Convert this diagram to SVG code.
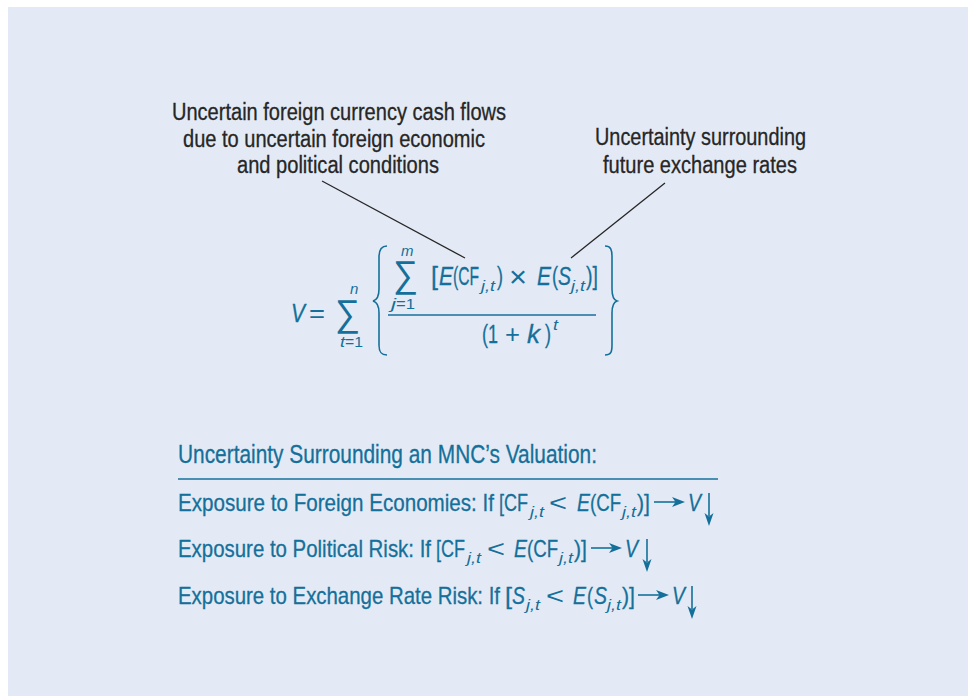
<svg xmlns="http://www.w3.org/2000/svg" width="972" height="696" viewBox="0 0 972 696">
  <style>
    .bg { fill: #e4eaf5; }
    .note { font-family: 'Liberation Sans', Arial, sans-serif; font-size: 23px; fill: #262626; stroke: #262626; stroke-width: 0.3; }
    .m { font-family: 'Liberation Sans', Arial, sans-serif; fill: #14709a; stroke: #14709a; stroke-width: 0.3; }
    .big { font-size: 25px; }
    .row { font-size: 24px; }
    .sm { font-size: 15px; stroke: none; }
    .op { stroke: none; }
    .it { font-style: italic; }
    .sig { font-family: 'Liberation Sans', Arial, sans-serif; font-size: 37px; fill: #14709a; }
    .leader { stroke: #262626; stroke-width: 1.3; fill: none; }
    .rule { stroke: #14709a; stroke-width: 1.6; fill: none; }
    .brace { stroke: #14709a; stroke-width: 1.6; fill: none; }
    .ah { fill: #14709a; }
  </style>

  <rect class="bg" x="8" y="7" width="960" height="689"/>

  <!-- callout: cash flow uncertainty -->
  <g id="note-cashflows">
    <text class="note" x="172" y="120" textLength="334" lengthAdjust="spacingAndGlyphs">Uncertain foreign currency cash flows</text>
    <text class="note" x="183" y="147" textLength="302" lengthAdjust="spacingAndGlyphs">due to uncertain foreign economic</text>
    <text class="note" x="237" y="173" textLength="202" lengthAdjust="spacingAndGlyphs">and political conditions</text>
  </g>

  <!-- callout: exchange rate uncertainty -->
  <g id="note-rates">
    <text class="note" x="595" y="145" textLength="211" lengthAdjust="spacingAndGlyphs">Uncertainty surrounding</text>
    <text class="note" x="603" y="173" textLength="194" lengthAdjust="spacingAndGlyphs">future exchange rates</text>
  </g>

  <!-- valuation equation -->
  <g id="equation">
    <text class="m big it" x="291" y="322" textLength="14" lengthAdjust="spacingAndGlyphs">V</text>
    <text class="m big op" x="309" y="322" textLength="16" lengthAdjust="spacingAndGlyphs">=</text>
    <text class="sig" x="347.5" y="326" text-anchor="middle" textLength="25" lengthAdjust="spacingAndGlyphs">∑</text>
    <text class="m sm it" x="350" y="294">n</text>
    <text class="m sm it" x="340" y="347" textLength="5" lengthAdjust="spacingAndGlyphs">t</text>
    <text class="m sm" x="345" y="347" textLength="18" lengthAdjust="spacingAndGlyphs">=1</text>

    <path class="brace" d="M387,246 C381,246 379,250 379,257 L379,289 C379,296 377,300 373,301 C377,302 379,306 379,313 L379,345 C379,352 381,355 387,355"/>
    <path class="brace" d="M605,246 C611,246 612,250 612,257 L612,289 C612,296 614,300 617,301 C614,302 612,306 612,313 L612,345 C612,352 611,355 605,355"/>

    <!-- numerator -->
    <text class="sig" x="405.5" y="287" text-anchor="middle" textLength="25" lengthAdjust="spacingAndGlyphs">∑</text>
    <text class="m sm it" x="401" y="256">m</text>
    <text class="m sm it" x="391" y="309" textLength="5" lengthAdjust="spacingAndGlyphs">j</text>
    <text class="m sm" x="396" y="309" textLength="19" lengthAdjust="spacingAndGlyphs">=1</text>

    <text class="m big" x="431" y="285" textLength="7" lengthAdjust="spacingAndGlyphs">[</text>
    <text class="m big it" x="439" y="285" textLength="14" lengthAdjust="spacingAndGlyphs">E</text>
    <text class="m big" x="453" y="285" textLength="26" lengthAdjust="spacingAndGlyphs">(CF</text>
    <text class="m sm it" x="481" y="291" textLength="14" lengthAdjust="spacingAndGlyphs">j,t</text>
    <text class="m big" x="497" y="285" textLength="6" lengthAdjust="spacingAndGlyphs">)</text>
    <text class="m op" x="509" y="287" font-size="29" textLength="18" lengthAdjust="spacingAndGlyphs">×</text>
    <text class="m big it" x="537" y="285" textLength="14" lengthAdjust="spacingAndGlyphs">E</text>
    <text class="m big" x="552" y="285" textLength="6" lengthAdjust="spacingAndGlyphs">(</text>
    <text class="m big it" x="558" y="285" textLength="13" lengthAdjust="spacingAndGlyphs">S</text>
    <text class="m sm it" x="571" y="291" textLength="14" lengthAdjust="spacingAndGlyphs">j,t</text>
    <text class="m big" x="586" y="285" textLength="12" lengthAdjust="spacingAndGlyphs">)]</text>

    <line class="rule" x1="388" y1="315" x2="596" y2="315"/>

    <!-- denominator -->
    <text class="m big" x="482" y="343" textLength="16" lengthAdjust="spacingAndGlyphs">(1</text>
    <text class="m big op" x="505" y="343" textLength="15" lengthAdjust="spacingAndGlyphs">+</text>
    <text class="m big it" x="527" y="343" textLength="13" lengthAdjust="spacingAndGlyphs">k</text>
    <text class="m big" x="545" y="343" textLength="6" lengthAdjust="spacingAndGlyphs">)</text>
    <text class="m sm it" x="553" y="330" textLength="5" lengthAdjust="spacingAndGlyphs">t</text>
  </g>

  <!-- leader lines from callouts to the equation -->
  <g id="connectors">
    <line class="leader" x1="322" y1="181" x2="465" y2="258"/>
    <line class="leader" x1="665" y1="183" x2="571" y2="258"/>
  </g>

  <!-- summary of exposures -->
  <g id="summary">
    <text class="m" x="178" y="463" font-size="25" textLength="419" lengthAdjust="spacingAndGlyphs">Uncertainty Surrounding an MNC’s Valuation:</text>
    <line class="rule" x1="178" y1="479" x2="718" y2="479"/>

    <g id="row-economies">
      <text class="m row" x="178" y="511" textLength="316" lengthAdjust="spacingAndGlyphs">Exposure to Foreign Economies: If</text>
      <text class="m row" x="499" y="511" textLength="29" lengthAdjust="spacingAndGlyphs">[CF</text>
      <text class="m sm it" x="530" y="517" textLength="14" lengthAdjust="spacingAndGlyphs">j,t</text>
      <text class="m row op" x="549" y="511" textLength="18" lengthAdjust="spacingAndGlyphs">&lt;</text>
      <text class="m row it" x="577" y="511" textLength="13" lengthAdjust="spacingAndGlyphs">E</text>
      <text class="m row" x="590" y="511" textLength="31" lengthAdjust="spacingAndGlyphs">(CF</text>
      <text class="m sm it" x="622" y="517" textLength="14" lengthAdjust="spacingAndGlyphs">j,t</text>
      <text class="m row" x="637" y="511" textLength="13" lengthAdjust="spacingAndGlyphs">)]</text>
      <text class="m row it" x="688" y="511" textLength="13" lengthAdjust="spacingAndGlyphs">V</text>
      <line class="rule" x1="654" y1="502" x2="676" y2="502"/>
      <path class="ah" d="M685,502 L672,497 L675.5,502 L672,507 Z"/>
      <line class="rule" x1="709" y1="493" x2="709" y2="516"/>
      <path class="ah" d="M709,526 L704.5,513 L709,516.5 L713.5,513 Z"/>
    </g>

    <g id="row-political">
      <text class="m row" x="178" y="557" textLength="253" lengthAdjust="spacingAndGlyphs">Exposure to Political Risk: If</text>
      <text class="m row" x="436" y="557" textLength="29" lengthAdjust="spacingAndGlyphs">[CF</text>
      <text class="m sm it" x="467" y="563" textLength="14" lengthAdjust="spacingAndGlyphs">j,t</text>
      <text class="m row op" x="487" y="557" textLength="18" lengthAdjust="spacingAndGlyphs">&lt;</text>
      <text class="m row it" x="514" y="557" textLength="13" lengthAdjust="spacingAndGlyphs">E</text>
      <text class="m row" x="527" y="557" textLength="31" lengthAdjust="spacingAndGlyphs">(CF</text>
      <text class="m sm it" x="559" y="563" textLength="14" lengthAdjust="spacingAndGlyphs">j,t</text>
      <text class="m row" x="574" y="557" textLength="13" lengthAdjust="spacingAndGlyphs">)]</text>
      <text class="m row it" x="625" y="557" textLength="13" lengthAdjust="spacingAndGlyphs">V</text>
      <line class="rule" x1="591" y1="548" x2="613" y2="548"/>
      <path class="ah" d="M622,548 L609,543 L612.5,548 L609,553 Z"/>
      <line class="rule" x1="647" y1="539" x2="647" y2="562"/>
      <path class="ah" d="M647,572 L642.5,559 L647,562.5 L651.5,559 Z"/>
    </g>

    <g id="row-exchange">
      <text class="m row" x="178" y="604" textLength="322" lengthAdjust="spacingAndGlyphs">Exposure to Exchange Rate Risk: If</text>
      <text class="m row" x="505" y="604" textLength="7" lengthAdjust="spacingAndGlyphs">[</text>
      <text class="m row it" x="512" y="604" textLength="13" lengthAdjust="spacingAndGlyphs">S</text>
      <text class="m sm it" x="526" y="610" textLength="14" lengthAdjust="spacingAndGlyphs">j,t</text>
      <text class="m row op" x="546" y="604" textLength="18" lengthAdjust="spacingAndGlyphs">&lt;</text>
      <text class="m row it" x="573" y="604" textLength="13" lengthAdjust="spacingAndGlyphs">E</text>
      <text class="m row" x="587" y="604" textLength="6" lengthAdjust="spacingAndGlyphs">(</text>
      <text class="m row it" x="594" y="604" textLength="13" lengthAdjust="spacingAndGlyphs">S</text>
      <text class="m sm it" x="607" y="610" textLength="14" lengthAdjust="spacingAndGlyphs">j,t</text>
      <text class="m row" x="622" y="604" textLength="13" lengthAdjust="spacingAndGlyphs">)]</text>
      <text class="m row it" x="672" y="604" textLength="13" lengthAdjust="spacingAndGlyphs">V</text>
      <line class="rule" x1="638" y1="595" x2="660" y2="595"/>
      <path class="ah" d="M669,595 L656,590 L659.5,595 L656,600 Z"/>
      <line class="rule" x1="692" y1="586" x2="692" y2="609"/>
      <path class="ah" d="M692,619 L687.5,606 L692,609.5 L696.5,606 Z"/>
    </g>
  </g>
</svg>
